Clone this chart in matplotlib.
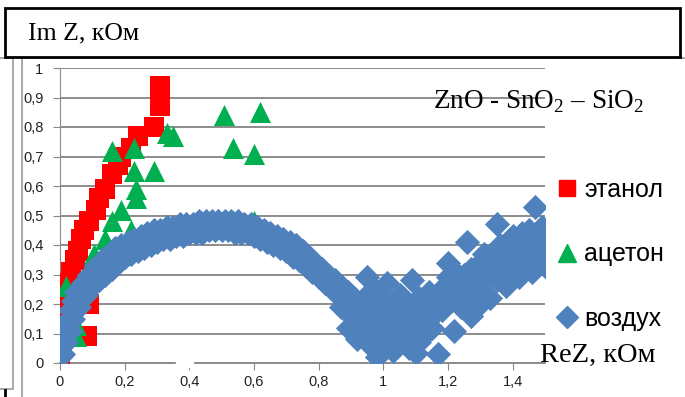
import matplotlib
matplotlib.use("Agg")
import matplotlib.pyplot as plt
from matplotlib.lines import Line2D
from matplotlib.patches import Rectangle
from matplotlib.ticker import FuncFormatter

plt.rcParams['mathtext.fontset'] = 'custom'
plt.rcParams['mathtext.rm'] = 'Liberation Serif'

# этанол (red squares)
ex = [0.00, 0.00, 0.01, 0.012, 0.02, 0.035, 0.045, 0.055, 0.065, 0.075, 0.09, 0.11, 0.12,
      0.14, 0.16, 0.18, 0.19, 0.22, 0.24, 0.29, 0.31, 0.31, 0.09, 0.085]
ey = [0.02, 0.07, 0.14, 0.20, 0.27, 0.31, 0.35, 0.38, 0.42, 0.45, 0.48, 0.52, 0.56,
      0.59, 0.64, 0.67, 0.70, 0.73, 0.77, 0.80, 0.87, 0.94, 0.20, 0.09]

# ацетон (green triangles)
ax_ = [0.00, 0.02, 0.05, 0.05, 0.07, 0.09, 0.105, 0.14, 0.16, 0.19, 0.22, 0.235, 0.235,
       0.23, 0.29, 0.16, 0.23, 0.33, 0.35, 0.506, 0.534, 0.60, 0.62, 0.60]
ay_ = [0.00, 0.26, 0.13, 0.09, 0.28, 0.32, 0.37, 0.42, 0.48, 0.52, 0.45, 0.56, 0.59,
       0.65, 0.65, 0.72, 0.73, 0.78, 0.77, 0.84, 0.73, 0.71, 0.85, 0.48]

# воздух (blue diamonds)
bx = [0.00, 0.01, 0.02, 0.03, 0.04, 0.05, 0.07, 0.09, 0.11, 0.13, 0.15, 0.17, 0.19, 0.21,
      0.23, 0.25, 0.27, 0.29, 0.31, 0.33, 0.35, 0.37, 0.39, 0.41, 0.43, 0.45, 0.47, 0.49,
      0.51, 0.53, 0.55, 0.57, 0.59, 0.61, 0.63, 0.65, 0.67, 0.69, 0.71, 0.73, 0.75, 0.77,
      0.79, 0.81, 0.83, 0.85, 0.87, 0.89, 0.91, 0.93,
      0.01, 0.02, 0.03, 0.04, 0.06, 0.08, 0.10, 0.12, 0.14, 0.16, 0.18, 0.20, 0.22, 0.24,
      0.26, 0.28, 0.30, 0.32, 0.34, 0.36, 0.38, 0.40, 0.42, 0.44, 0.46, 0.48, 0.50, 0.52,
      0.54, 0.56, 0.58, 0.60, 0.62, 0.64, 0.66, 0.68, 0.70, 0.72, 0.74, 0.76, 0.78, 0.80,
      0.82, 0.84, 0.86, 0.88, 0.90, 0.92,
      0.89, 0.87, 0.91, 0.93, 0.95, 0.95, 0.96, 0.97, 0.98, 0.98, 0.99, 1.00, 1.00, 1.01,
      1.02, 1.02, 1.03, 1.04, 1.05, 1.05, 1.06, 1.07, 1.08, 1.08, 1.09, 1.10, 1.10, 1.11,
      1.12, 1.13, 1.14, 1.15, 1.17,
      0.90, 0.92, 0.94, 0.96, 0.97, 0.99, 1.00, 1.01, 1.03, 1.04, 1.06, 1.06, 1.07, 1.09,
      1.09, 1.11, 1.12, 1.13, 1.14, 1.15, 1.16, 1.17, 1.18, 1.19, 1.20, 1.21, 1.23, 1.25,
      1.27, 1.29, 1.31, 1.32, 1.34, 1.36, 1.37, 1.39, 1.41, 1.42, 1.44, 1.46, 1.48, 1.50,
      1.47, 1.49,
      1.16, 1.18, 1.19, 1.20, 1.21, 1.22, 1.22, 1.24, 1.25, 1.26, 1.26, 1.27, 1.28, 1.29,
      1.30, 1.31, 1.32, 1.33, 1.34, 1.35, 1.35, 1.36, 1.37, 1.38, 1.39, 1.40, 1.40, 1.41,
      1.42, 1.43, 1.44, 1.45, 1.45, 1.46, 1.47, 1.47, 1.48, 1.49, 1.49, 1.50, 1.43, 1.38,
      1.33, 1.28, 1.24, 1.30]
by = [0.02, 0.09, 0.14, 0.18, 0.21, 0.24, 0.27, 0.30, 0.33, 0.35, 0.37, 0.39, 0.40, 0.41,
      0.42, 0.43, 0.44, 0.45, 0.45, 0.46, 0.46, 0.47, 0.47, 0.47, 0.48, 0.48, 0.48, 0.48,
      0.48, 0.48, 0.48, 0.47, 0.47, 0.46, 0.45, 0.44, 0.43, 0.42, 0.41, 0.40, 0.38, 0.36,
      0.34, 0.32, 0.30, 0.28, 0.26, 0.24, 0.22, 0.20,
      0.03, 0.07, 0.11, 0.15, 0.19, 0.23, 0.26, 0.28, 0.30, 0.32, 0.34, 0.36, 0.37, 0.38,
      0.39, 0.40, 0.41, 0.42, 0.42, 0.43, 0.43, 0.44, 0.44, 0.44, 0.45, 0.45, 0.45, 0.45,
      0.44, 0.44, 0.44, 0.43, 0.42, 0.41, 0.40, 0.39, 0.38, 0.36, 0.35, 0.33, 0.31, 0.29,
      0.27, 0.25, 0.23, 0.21, 0.19, 0.17,
      0.12, 0.19, 0.15, 0.10, 0.13, 0.29, 0.06, 0.17, 0.02, 0.10, 0.22, 0.05, 0.14, 0.27,
      0.09, 0.19, 0.04, 0.13, 0.23, 0.07, 0.16, 0.10, 0.05, 0.20, 0.28, 0.035, 0.13, 0.22,
      0.17, 0.10, 0.24, 0.19, 0.03,
      0.18, 0.08, 0.22, 0.12, 0.25, 0.08, 0.19, 0.12, 0.16, 0.08, 0.12, 0.22, 0.17, 0.09,
      0.18, 0.07, 0.13, 0.20, 0.15, 0.12, 0.17, 0.21, 0.25, 0.20, 0.29, 0.25, 0.30, 0.26,
      0.32, 0.27, 0.32, 0.36, 0.30, 0.34, 0.38, 0.34, 0.40, 0.33, 0.38, 0.40, 0.43, 0.38,
      0.35, 0.35,
      0.22, 0.18, 0.26, 0.34, 0.21, 0.11, 0.27, 0.24, 0.30, 0.41, 0.21, 0.16, 0.28, 0.33,
      0.25, 0.37, 0.30, 0.22, 0.35, 0.47, 0.28, 0.40, 0.33, 0.26, 0.38, 0.43, 0.31, 0.36,
      0.29, 0.40, 0.34, 0.45, 0.38, 0.31, 0.53, 0.42, 0.36, 0.46, 0.39, 0.33, 0.44, 0.36,
      0.31, 0.23, 0.19, 0.20]

series_labels = ['этанол', 'ацетон', 'воздух']
red = '#FF0000'
green = '#00B050'
blue = '#4F81BD'

fig = plt.figure(figsize=(6.85, 3.97), dpi=100)
ax = fig.add_axes([60 / 685, 34 / 397, 485 / 685, 295 / 397])

ax.scatter(ex, ey, marker='s', s=200, color=red, linewidths=0, zorder=3)
ax.scatter(ax_, ay_, marker='^', s=230, color=green, linewidths=0, zorder=4)
ax.scatter(bx, by, marker='D', s=165, color=blue, linewidths=0, zorder=5)

ax.set_xlim(0, 1.5)
ax.set_ylim(0, 1.0)
ax.set_xticks([0, 0.2, 0.4, 0.6, 0.8, 1.0, 1.2, 1.4])
ax.set_yticks([i / 10 for i in range(11)])
fmt = FuncFormatter(lambda v, p: ('%g' % round(v, 2)).replace('.', ','))
ax.xaxis.set_major_formatter(fmt)
ax.yaxis.set_major_formatter(fmt)
ax.tick_params(labelsize=10.5, length=5, color='#888888', labelcolor='#222222')
ax.tick_params(axis='y', pad=7)
for lab in ax.get_xticklabels() + ax.get_yticklabels():
    lab.set_family('Liberation Sans')
ax.grid(axis='y', color='#8c8c8c', linewidth=1.4)
ax.set_axisbelow(True)
for s in ['top', 'right']:
    ax.spines[s].set_visible(False)
ax.spines['left'].set_color('#8c8c8c')
ax.spines['bottom'].set_color('#8c8c8c')
ax.spines['bottom'].set_linewidth(1.4)
# small break in the x axis line
ax.add_patch(Rectangle((0.36, -0.012), 0.05, 0.024, transform=ax.transData,
                       color='white', clip_on=False, zorder=6))

fig.text(539 / 685, 1 - 102 / 397, 'ZnO - SnO$_\\mathrm{2}$ – SiO$_\\mathrm{2}$',
         fontsize=19.5, family='Liberation Serif', ha='center', va='center')

handles = [Line2D([], [], ls='', marker='s', color=red, markersize=12),
           Line2D([], [], ls='', marker='^', color=green, markersize=13),
           Line2D([], [], ls='', marker='D', color=blue, markersize=11)]
fig.legend(handles, series_labels, loc='upper left',
           bbox_to_anchor=(544 / 685, 1 - 168 / 397), frameon=False,
           prop={'family': 'Liberation Sans', 'size': 18}, labelspacing=1.62,
           handletextpad=0.2, handlelength=1.0, borderaxespad=0)

fig.text(540 / 685, 1 - 355 / 397, 'ReZ, кОм', family='Liberation Serif', fontsize=20.5,
         va='center', ha='left')
fig.text(28 / 685, 1 - 33 / 397, 'Im Z, кОм', family='Liberation Serif', fontsize=18.5,
         va='center', ha='left')

# frames around the chart
fig.patches.append(Rectangle((22 / 685, -0.01), 0.98, 1 - 58 / 397 + 0.01, transform=fig.transFigure,
                             fill=False, edgecolor='#9a9a9a', linewidth=1.2))
fig.patches.append(Rectangle((-0.01, 1 - 389 / 397), 13 / 685 + 0.01, 331 / 397,
                             transform=fig.transFigure, fill=False, edgecolor='#9a9a9a', linewidth=1.2))
fig.patches.append(Rectangle((5 / 685, 1 - 57 / 397), 675 / 685, 49 / 397,
                             transform=fig.transFigure, fill=False, edgecolor='black', linewidth=2))
fig.lines.append(Line2D([5 / 685, 5 / 685], [0, 1 - 390 / 397], transform=fig.transFigure,
                        color='black', linewidth=2))

fig.savefig('out.png', dpi=100)
